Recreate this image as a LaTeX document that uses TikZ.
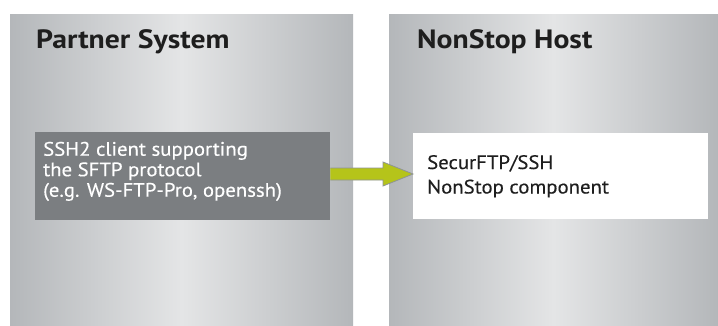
\documentclass[tikz,border=0pt]{standalone}
\usepackage{fontspec}
\setmainfont{PT Sans}
\newfontfamily\titlefont[FakeStretch=1.12]{PT Sans Bold}
\newfontfamily\bodyfont[FakeStretch=1.065,FakeBold=0.3]{PT Sans}
\definecolor{edgegray}{HTML}{B4B7BA}
\definecolor{midgray}{HTML}{E4E5E6}
\definecolor{boxgray}{HTML}{7B7E81}
\definecolor{arrowgreen}{HTML}{B5C41A}
\definecolor{arrowedge}{HTML}{8E9396}
\definecolor{titlecol}{HTML}{1E1E1E}
\tikzset{
  panel/.style={shading=axis, left color=edgegray, right color=edgegray, middle color=midgray, draw=none,
    minimum height=311pt, anchor=north west, inner sep=0pt},
  title/.style={anchor=base west, font=\titlefont\fontsize{26.5}{30}\selectfont, text=titlecol, inner sep=0pt},
  boxtext/.style={anchor=base west, align=left, inner sep=0pt},
  bigarrow/.style={fill=arrowgreen, draw=arrowedge, line width=0.8pt, line join=miter}
}
\begin{document}
\begin{tikzpicture}[x=1pt,y=-1pt]
\useasboundingbox (0,0) rectangle (718,325);
\fill[white] (0,0) rectangle (718,325);
\node[panel, minimum width=343pt] (left) at (10,14) {};
\node[panel, minimum width=329pt] (right) at (389,14) {};
\node[title] (lt) at (36,48) {Partner System};
\node[title] (rt) at (417,48) {NonStop Host};
\node[fill=boxgray, minimum width=295pt, minimum height=88pt, anchor=north west, inner sep=0pt] (client) at (35,132) {};
\node[boxtext, text=white, font=\bodyfont\fontsize{19.5}{20.5}\selectfont] (clienttext) at (43,196.7) {SSH2 client supporting\\the SFTP protocol\\(e.g. WS-FTP-Pro, openssh)};
\node[fill=white, minimum width=295pt, minimum height=86pt, anchor=north west, inner sep=0pt] (server) at (413,133) {};
\node[boxtext, text=titlecol, font=\bodyfont\fontsize{19.5}{24.5}\selectfont] (servertext) at (427,193.5) {SecurFTP/SSH\\NonStop component};
\draw[bigarrow] (client.east |- 0,168) -- (383,168) -- (383,162) -- (server.west |- 0,174) -- (383,186) -- (383,180) -- (client.east |- 0,180);
\end{tikzpicture}
\end{document}
